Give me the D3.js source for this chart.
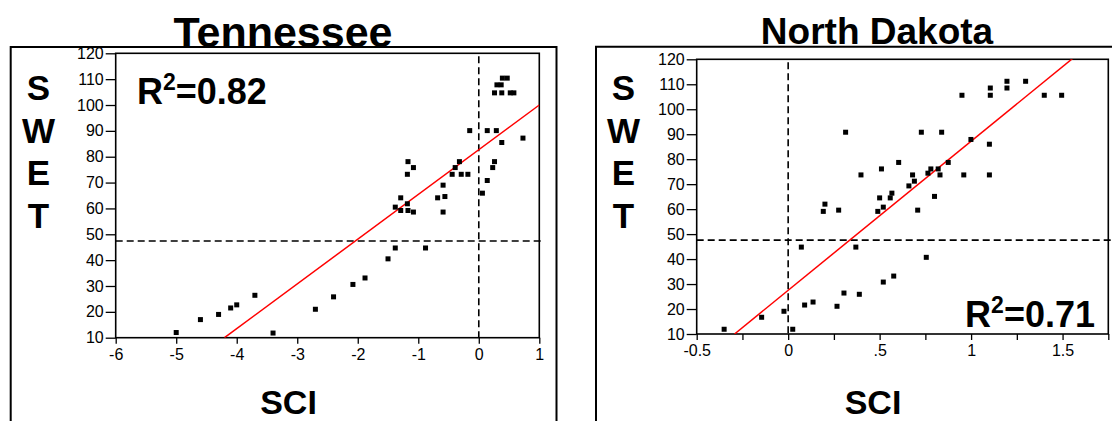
<!DOCTYPE html>
<html>
<head>
<meta charset="utf-8">
<script src="https://cdn.jsdelivr.net/npm/d3@7"></script>
<style>
  html, body { margin: 0; padding: 0; background: #fff; }
  svg { display: block; font-family: "Liberation Sans", Arial, sans-serif; }
</style>
</head>
<body>
<svg id="chart" width="1112" height="421"></svg>
<script>
// --- Data: Tennessee ---
const tnSci = [-5.0, -4.6, -4.3, -4.1, -4.0, -3.7, -3.4, -2.7, -2.4, -2.08, -1.88, -1.5, -1.38, -0.88,
  -1.17, -1.08, -1.18, -0.32, -0.39, -0.44, -0.29, -0.18, 0.26, 0.23, 0.14, 0.06,
  -0.59, -0.68, -0.56, -0.59, -1.29, -1.38, -1.29, -1.18, -1.17, -1.08,
  0.39, 0.47, 0.30, 0.37, 0.26, 0.38, 0.52, 0.58, -0.15, 0.14, 0.29, 0.38, 0.73];
const tnSwet = [12, 17, 19, 21.5, 22.7, 26.4, 11.8, 21, 25.8, 30.6, 33.1, 40.5, 44.7, 44.7,
  78.1, 75.8, 73.2, 78.1, 75.8, 73.2, 73.2, 73.2, 78.1, 75.8, 70.8, 65.9,
  69, 64.1, 64.6, 58.6, 64.1, 60.5, 59.2, 61.8, 59.2, 58.6,
  110.4, 110.4, 107.8, 107.8, 104.7, 104.7, 104.7, 104.7, 90.1, 90.1, 90.1, 85.5, 87.2];
const tnFit = { intercept: 82.7, slope: 17.3 };
const tnCut = { sci: 0, swet: 47.4 };
const tnR2 = "0.82";
const tnXTicks = [-6, -5, -4, -3, -2, -1, 0, 1];
const tnXLabels = ["-6", "-5", "-4", "-3", "-2", "-1", "0", "1"];

// --- Data: North Dakota ---
const ndSci = [-0.35, -0.145, -0.023, 0.025, 0.072, 0.09, 0.136, 0.267, 0.305, 0.389, 0.52, 0.577, 0.37, 0.755,
  0.314, 0.728, 0.839, 0.999, 1.10, 0.604, 0.875, 0.51, 0.78, 0.82,
  0.398, 0.68, 0.83, 0.96, 1.10, 0.764, 0.69, 0.66, 0.567, 0.50, 0.558, 0.80,
  0.201, 0.192, 0.276, 0.49, 0.52, 0.708,
  1.196, 1.298, 1.196, 1.105, 1.105, 1.40, 1.495, 0.95];
const ndSwet = [11.9, 16.7, 19.1, 11.9, 44.8, 21.6, 22.8, 21.1, 26.4, 25.9, 30.8, 33.2, 44.8, 40.7,
  90.8, 90.8, 90.8, 87.9, 86, 78.7, 78.7, 76.1, 76.1, 76.1,
  73.7, 73.7, 73.7, 73.7, 73.7, 74.4, 71.2, 69.3, 66.4, 64.5, 64.5, 65.1,
  62, 59.1, 59.6, 59.1, 60.8, 59.6,
  111.2, 111.2, 108.5, 108.5, 105.6, 105.6, 105.6, 105.6];
const ndFit = { intercept: 27.5, slope: 59.7 };
const ndCut = { sci: 0, swet: 47.6 };
const ndR2 = "0.71";
const ndXTicks = [-0.5, 0, 0.5, 1, 1.5];
const ndXLabels = ["-0.5", "0", ".5", "1", "1.5"];
const ndXMinor = [-0.25, 0.25, 0.75, 1.25, 1.75];

const yTicks = [10, 20, 30, 40, 50, 60, 70, 80, 90, 100, 110, 120];
const yLabelLetters = ["S", "W", "E", "T"];

const svg = d3.select("#chart");

function drawPanel(p) {
  const g = svg.append("g");

  const x = d3.scaleLinear().domain(p.xDomain).range([p.box.left, p.box.right]);
  const y = d3.scaleLinear().domain([10, 120]).range([p.box.bottom, p.box.top]);

  const clipId = "clip-" + p.id;
  svg.append("clipPath").attr("id", clipId)
    .append("rect")
    .attr("x", p.box.left).attr("y", p.box.top)
    .attr("width", p.box.right - p.box.left)
    .attr("height", p.box.bottom - p.box.top);

  // --- Title (frame line drawn over it) ---
  g.append("text")
    .attr("x", p.title.x).attr("y", p.title.y)
    .attr("text-anchor", "middle")
    .attr("font-weight", "bold")
    .attr("font-size", p.title.size)
    .text(p.title.text);

  // --- Outer frame ---
  g.append("path")
    .attr("d", `M${p.frame.left},${height + 5} V${p.frame.top} H${p.frame.right} V${height + 5}`)
    .attr("fill", "none")
    .attr("stroke", "#000")
    .attr("stroke-width", 2);

  // --- Axes ---
  const yAxis = g.append("g")
    .attr("transform", `translate(${p.box.left},0)`)
    .call(d3.axisLeft(y).tickValues(yTicks).tickSize(10).tickPadding(2));
  yAxis.select(".domain").remove();

  const xAxis = g.append("g")
    .attr("transform", `translate(0,${p.box.bottom})`)
    .call(d3.axisBottom(x).tickValues(p.xTicks).tickSize(6).tickPadding(5)
      .tickFormat((d, i) => p.xLabels[i]));
  xAxis.select(".domain").remove();

  if (p.xMinor) {
    g.append("g")
      .attr("transform", `translate(0,${p.box.bottom})`)
      .call(d3.axisBottom(x).tickValues(p.xMinor).tickSize(6).tickFormat(""))
      .select(".domain").remove();
  }

  g.selectAll(".tick text")
    .attr("font-size", 16)
    .attr("font-family", "'Liberation Sans', Arial, sans-serif")
    .attr("fill", "#000");
  g.selectAll(".tick line").attr("stroke", "#000").attr("stroke-width", 1.3);

  // --- Plot box ---
  g.append("rect")
    .attr("x", p.box.left).attr("y", p.box.top)
    .attr("width", p.box.right - p.box.left)
    .attr("height", p.box.bottom - p.box.top)
    .attr("fill", "none")
    .attr("stroke", "#000")
    .attr("stroke-width", 1.6);

  // --- Dashed cut lines ---
  g.append("line")
    .attr("x1", p.box.left).attr("x2", p.hDashEnd)
    .attr("y1", y(p.cut.swet)).attr("y2", y(p.cut.swet))
    .attr("stroke", "#000").attr("stroke-width", 1.6)
    .attr("stroke-dasharray", "7,4");

  g.append("line")
    .attr("x1", x(p.cut.sci)).attr("x2", x(p.cut.sci))
    .attr("y1", p.box.top + 3).attr("y2", p.box.bottom)
    .attr("stroke", "#000").attr("stroke-width", 1.6)
    .attr("stroke-dasharray", "7,4");

  // --- Regression line ---
  const fitX = [(10 - p.fit.intercept) / p.fit.slope, p.xDomain[1]];
  g.append("line")
    .attr("clip-path", `url(#${clipId})`)
    .attr("x1", x(fitX[0])).attr("y1", y(p.fit.intercept + p.fit.slope * fitX[0]))
    .attr("x2", x(fitX[1])).attr("y2", y(p.fit.intercept + p.fit.slope * fitX[1]))
    .attr("stroke", "#ff0000")
    .attr("stroke-width", 1.5);

  // --- Points ---
  const pts = p.sci.map((s, i) => ({ sci: s, swet: p.swet[i] }));
  g.selectAll(".pt")
    .data(pts)
    .join("rect")
    .attr("class", "pt")
    .attr("x", d => x(d.sci) - 2.5)
    .attr("y", d => y(d.swet) - 2.5)
    .attr("width", 5)
    .attr("height", 5)
    .attr("fill", "#000");

  // --- R² label ---
  const r2 = g.append("text")
    .attr("x", p.r2.x).attr("y", p.r2.y)
    .attr("text-anchor", p.r2.anchor)
    .attr("font-weight", "bold")
    .attr("font-size", 36);
  r2.append("tspan").text("R");
  r2.append("tspan").attr("font-size", 23).attr("dy", -14).text("2");
  r2.append("tspan").attr("dy", 14).text("=" + p.r2.text);

  // --- Axis titles ---
  g.selectAll(".ylet")
    .data(yLabelLetters)
    .join("text")
    .attr("x", p.swetX)
    .attr("y", (d, i) => 100 + i * 42.5)
    .attr("text-anchor", "middle")
    .attr("font-weight", "bold")
    .attr("font-size", 35)
    .text(d => d);

  g.append("text")
    .attr("x", p.sciX).attr("y", 414)
    .attr("text-anchor", "middle")
    .attr("font-weight", "bold")
    .attr("font-size", 34)
    .text("SCI");
}

const width = 1112, height = 421;

drawPanel({
  id: "tn",
  sci: tnSci, swet: tnSwet, fit: tnFit, cut: tnCut,
  xDomain: [-6, 1], xTicks: tnXTicks, xLabels: tnXLabels,
  box: { left: 115.7, right: 539.3, top: 53.3, bottom: 337.7 },
  frame: { left: 10.7, right: 556.5, top: 47 },
  hDashEnd: 541,
  title: { text: "Tennessee", x: 283, y: 47, size: 43 },
  r2: { text: tnR2, x: 137, y: 104, anchor: "start" },
  swetX: 38.5, sciX: 288.5
});

drawPanel({
  id: "nd",
  sci: ndSci, swet: ndSwet, fit: ndFit, cut: ndCut,
  xDomain: [-0.5, 1.75], xTicks: ndXTicks, xLabels: ndXLabels, xMinor: ndXMinor,
  box: { left: 696.7, right: 1108.3, top: 59.3, bottom: 334 },
  frame: { left: 596, right: 1120, top: 46.7 },
  hDashEnd: 1112,
  title: { text: "North Dakota", x: 877, y: 44, size: 37 },
  r2: { text: ndR2, x: 1095, y: 327, anchor: "end" },
  swetX: 623.5, sciX: 873
});
</script>
</body>
</html>
